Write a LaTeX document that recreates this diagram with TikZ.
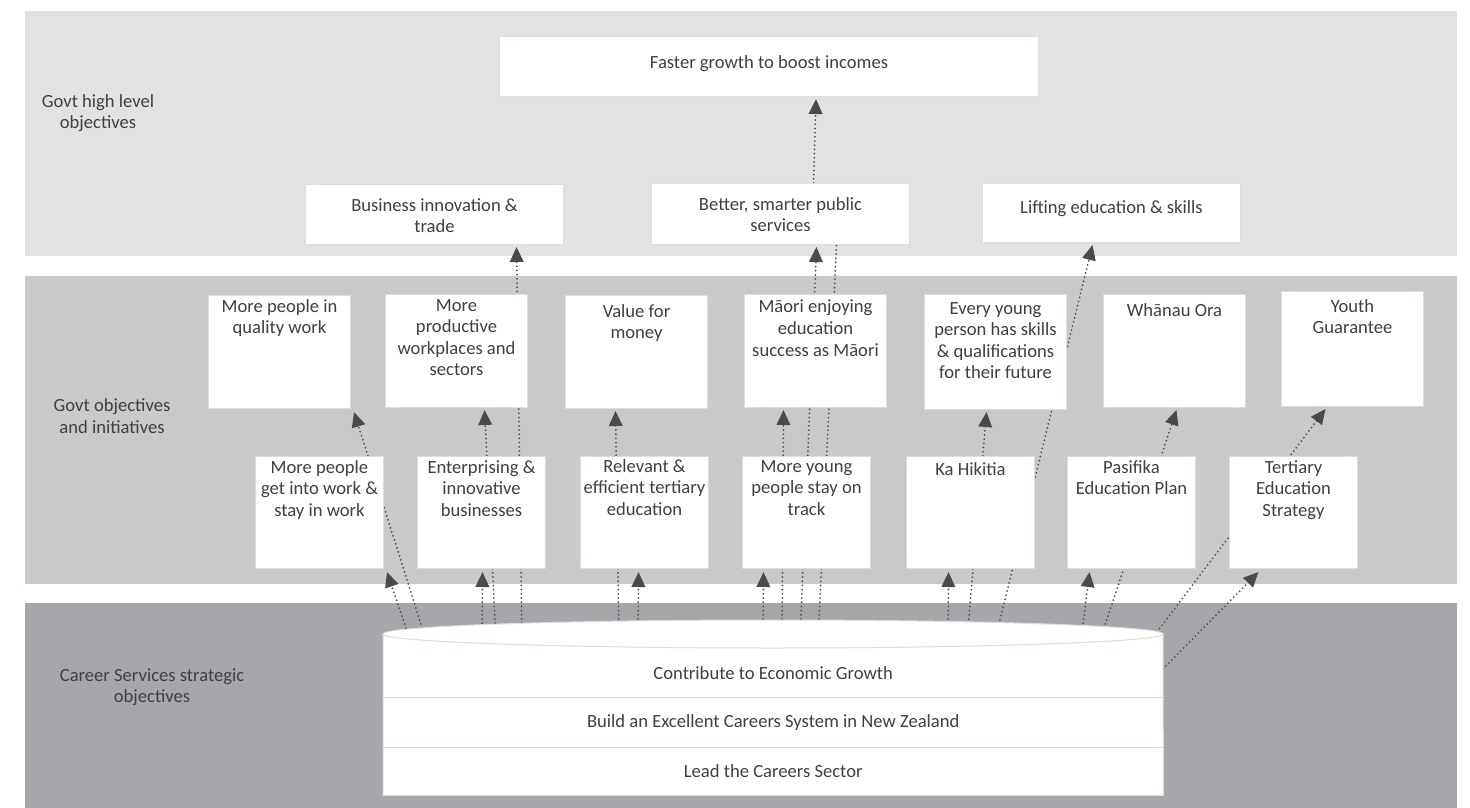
\documentclass[tikz,border=0pt]{standalone}
\usepackage{fontspec}
\setmainfont{Carlito}
\usetikzlibrary{arrows.meta}
\definecolor{bandA}{HTML}{E1E2E4}
\definecolor{bandB}{HTML}{C8C9CB}
\definecolor{bandC}{HTML}{A6A7AA}
\definecolor{edge}{HTML}{E6DAD4}
\definecolor{ink}{HTML}{404040}
\definecolor{dots}{HTML}{505052}
\definecolor{tipc}{HTML}{4A4A4C}
\pgfdeclarelayer{bands}
\pgfdeclarelayer{links}
\pgfsetlayers{bands,links,main}
\begin{document}
\begin{tikzpicture}[x=1pt,y=-1pt,
  every node/.style={font=\fontsize{18.6}{21.6}\selectfont, text=ink},
  box/.style={draw=edge, line width=1pt, fill=white, inner sep=0pt, anchor=north west},
  boxtext/.style={align=center, inner sep=0pt, anchor=north, execute at begin node=\strut},
  side/.style={align=center, inner sep=0pt},
  rowbox/.style={inner sep=0pt, minimum width=780pt, anchor=north west},
  link/.style={draw=dots, line width=2pt, line cap=round, dash pattern=on 0pt off 4.2pt},
  arr/.style={link, -{Triangle[length=15pt,width=13.5pt,color=tipc]}},
]
\useasboundingbox (0,0) rectangle (1470,808);

% three horizontal bands
\begin{pgfonlayer}{bands}
  \fill[white] (0,0) rectangle (1470,808);
  \fill[bandA] (25,11) rectangle (1457,256);
  \fill[bandB] (25,276) rectangle (1457,584);
  \fill[bandC] (25,603) rectangle (1457,808);
\end{pgfonlayer}

% band captions
\node[side] (lvl1) at (98,113) {Govt high level\\objectives};
\node[side] (lvl2) at (112,416) {Govt objectives\\and initiatives};
\node[side] (lvl3) at (152,687) {Career Services strategic\\objectives};

% high level objectives
\node[box, minimum width=539pt, minimum height=60pt] (faster) at (499,36) {};
\node[boxtext] (fasterT) at ([yshift=-17pt]faster.north) {Faster growth to boost incomes};
\node[box, minimum width=258pt, minimum height=60pt] (bit) at (305,184) {};
\node[boxtext] (bitT) at ([yshift=-14pt]bit.north) {Business innovation \&\\trade};
\node[box, minimum width=258pt, minimum height=61pt] (better) at (651,183) {};
\node[boxtext] (betterT) at ([yshift=-14pt]better.north) {Better, smarter public\\services};
\node[box, minimum width=258pt, minimum height=59pt] (lifting) at (982,183) {};
\node[boxtext] (liftingT) at ([yshift=-15pt]lifting.north) {Lifting education \& skills};

% government objectives
\node[box, minimum width=142pt, minimum height=113pt] (mpq) at (208,295) {};
\node[boxtext] (mpqT) at ([yshift=-4pt]mpq.north) {More people in\\quality work};
\node[box, minimum width=142pt, minimum height=113pt] (mpw) at (385,294) {};
\node[boxtext] (mpwT) at ([yshift=-5pt]mpw.north) {More\\productive\\workplaces and\\sectors};
\node[box, minimum width=142pt, minimum height=113pt] (vfm) at (565,295) {};
\node[boxtext] (vfmT) at ([yshift=-9pt]vfm.north) {Value for\\money};
\node[box, minimum width=142pt, minimum height=113pt] (maori) at (744,294) {};
\node[boxtext] (maoriT) at ([yshift=-6pt]maori.north) {Māori enjoying\\education\\success as Māori};
\node[box, minimum width=142pt, minimum height=115pt] (every) at (924,294) {};
\node[boxtext] (everyT) at ([yshift=-8pt]every.north) {Every young\\person has skills\\\& qualifications\\for their future};
\node[box, minimum width=142pt, minimum height=113pt] (whanau) at (1103,294) {};
\node[boxtext] (whanauT) at ([yshift=-7pt]whanau.north) {Whānau Ora};
\node[box, minimum width=142pt, minimum height=115pt] (youth) at (1281,291) {};
\node[boxtext] (youthT) at ([yshift=-8pt]youth.north) {Youth\\Guarantee};

% initiatives
\node[box, minimum width=128pt, minimum height=112pt] (mpg) at (255,456) {};
\node[boxtext] (mpgT) at ([yshift=-4pt]mpg.north) {More people\\get into work \&\\stay in work};
\node[box, minimum width=128pt, minimum height=112pt] (ent) at (417,456) {};
\node[boxtext] (entT) at ([yshift=-4pt]ent.north) {Enterprising \&\\innovative\\businesses};
\node[box, minimum width=128pt, minimum height=112pt] (rel) at (580,456) {};
\node[boxtext] (relT) at ([yshift=-3pt]rel.north) {Relevant \&\\efficient tertiary\\education};
\node[box, minimum width=128pt, minimum height=112pt] (myp) at (742,456) {};
\node[boxtext] (mypT) at ([yshift=-4pt]myp.north) {More young\\people stay on\\track};
\node[box, minimum width=128pt, minimum height=112pt] (ka) at (906,456) {};
\node[boxtext] (kaT) at ([yshift=-4pt]ka.north) {Ka Hikitia};
\node[box, minimum width=128pt, minimum height=112pt] (pas) at (1067,456) {};
\node[boxtext] (pasT) at ([yshift=-4pt]pas.north) {Pasifika\\Education Plan};
\node[box, minimum width=128pt, minimum height=112pt] (tes) at (1229,456) {};
\node[boxtext] (tesT) at ([yshift=-4pt]tes.north) {Tertiary\\Education\\Strategy};

% Career Services cylinder
\fill[white] (383,634) rectangle (1163,795);
\node[rowbox, minimum height=49pt] (row1) at (383,648) {Contribute to Economic Growth};
\node[rowbox, minimum height=50pt] (row2) at (383,697) {Build an Excellent Careers System in New Zealand};
\node[rowbox, minimum height=48pt] (row3) at (383,747) {Lead the Careers Sector};
\draw[edge, line width=1pt] (383,634) -- (row3.south west) -- (row3.south east) -- (1163,634);
\draw[edge, line width=1pt] (row1.south west) -- (row1.south east);
\draw[edge, line width=1pt] (row2.south west) -- (row2.south east);
\filldraw[fill=white, draw=edge, line width=1pt] (773,634) ellipse[x radius=390, y radius=14];

% start points on the cylinder
\coordinate (k2) at (522,640);
\coordinate (k3) at (800,640);
\coordinate (k4) at (782,640);
\coordinate (k5) at (818,640);
\coordinate (k6) at (763,640);
\coordinate (k7) at (995,640);
\coordinate (k8) at (410,640);
\coordinate (k9) at (426,640);
\coordinate (k10) at (482,640);
\coordinate (k11) at (496,640);
\coordinate (k12) at (619,640);
\coordinate (k13) at (638,640);
\coordinate (k14) at (948,640);
\coordinate (k15) at (967,640);
\coordinate (k16) at (1081,640);
\coordinate (k17) at (1100,640);
\coordinate (k18) at (1157,632);
\coordinate (k19) at (1163,669);

% contributions
\begin{pgfonlayer}{links}
  \draw[arr] ([xshift=33pt]better.north) -- ([xshift=47pt,yshift=-2pt]faster.south);
  \draw[arr] (k2) -- ([xshift=82pt,yshift=-2pt]bit.south);
  \draw[arr] (k3) -- ([xshift=36pt,yshift=-2pt]better.south);
  \draw[link] (k5) -- ([xshift=56pt]better.south);
  \draw[arr] (k4) -- ([xshift=-32pt,yshift=-2pt]maori.south);
  \draw[arr] (k6) -- ([xshift=-43pt,yshift=-3pt]myp.south);
  \draw[arr] (k7) -- ([xshift=-19pt,yshift=-2pt]lifting.south);
  \draw[arr] (k8) -- ([xshift=3pt,yshift=-3pt]mpg.south east);
  \draw[arr] (k9) -- ([xshift=3pt,yshift=-3pt]mpq.south east);
  \draw[arr] (k10) -- ([xshift=1pt,yshift=-3pt]ent.south);
  \draw[arr] (k11) -- ([xshift=28pt,yshift=-2pt]mpw.south);
  \draw[arr] (k12) -- ([xshift=-21pt,yshift=-2pt]vfm.south);
  \draw[arr] (k13) -- ([xshift=-6pt,yshift=-3pt]rel.south);
  \draw[arr] (k14) -- ([xshift=-22pt,yshift=-3pt]ka.south);
  \draw[arr] (k15) -- ([xshift=-9pt,yshift=-2pt]every.south);
  \draw[arr] (k16) -- ([xshift=-42pt,yshift=-3pt]pas.south);
  \draw[arr] (k17) -- ([xshift=2pt,yshift=-2pt]whanau.south);
  \draw[arr] (k18) -- ([xshift=-27pt,yshift=-2pt]youth.south);
  \draw[arr] (k19) -- ([xshift=-35pt,yshift=-3pt]tes.south);
\end{pgfonlayer}
\end{tikzpicture}
\end{document}
